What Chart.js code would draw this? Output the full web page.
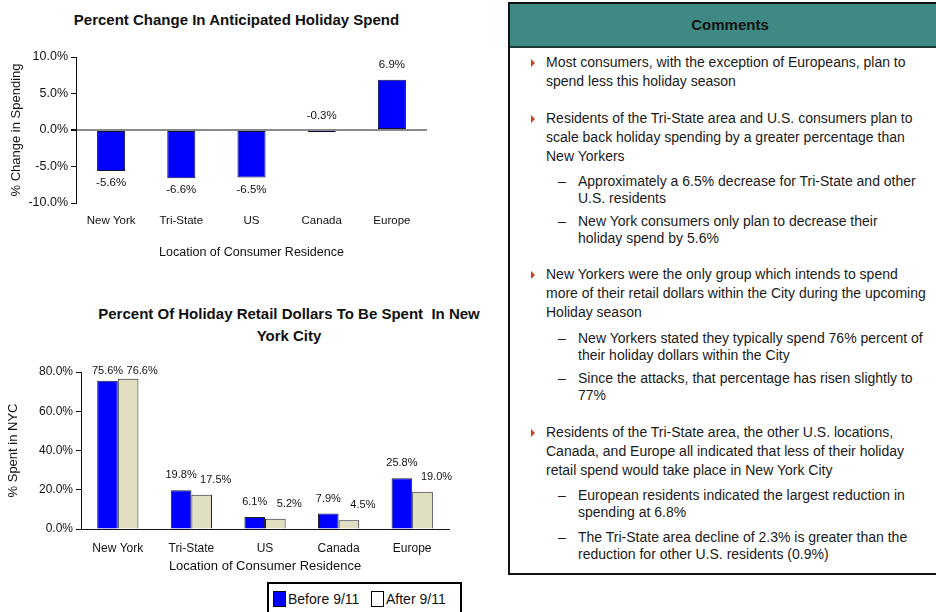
<!DOCTYPE html>
<html>
<head>
<meta charset="utf-8">
<script src="https://cdn.jsdelivr.net/npm/chart.js@4.4.1/dist/chart.umd.min.js"></script>
<style>
    html, body { margin: 0; padding: 0; background: #fff; }
    body { width: 936px; height: 612px; position: relative; overflow: hidden; font-family: "Liberation Sans", Arial, sans-serif; color: #111; }
    .chart-box { position: absolute; }
    .chart-title { position: absolute; font-weight: bold; font-size: 15px; text-align: center; line-height: 22px; white-space: nowrap; }
    .legend { position: absolute; left: 267px; top: 582px; width: 191px; height: 40px; border: 2px solid #000; font-size: 14px; }
    .legend span.item { position: absolute; top: 7px; white-space: nowrap; }
    .legend i { display: inline-block; width: 11px; height: 14px; border: 1px solid #000; vertical-align: -3px; margin-right: 2px; }
    .panel { position: absolute; left: 508px; top: 2px; width: 440px; height: 569px; border: 2px solid #111; }
    .panel .head { height: 42px; background: #3f8985; border-bottom: 2px solid #1d3d3b; font-weight: bold; font-size: 15px; text-align: center; line-height: 42px; color: #111; }
    .note { position: absolute; font-size: 14px; white-space: nowrap; color: #1a1a1a; }
    .note.main { left: 36px; line-height: 19px; }
    .note.sub { left: 68px; line-height: 16.5px; }
    .note.main::before { content: ""; position: absolute; left: -15px; top: 6px; border-left: 4px solid #c8421c; border-top: 4px solid transparent; border-bottom: 4px solid transparent; }
    .note.sub::before { content: "–"; position: absolute; left: -20px; top: 0; }
</style>
</head>
<body>

<div class="chart-title" style="left:70px; top:9px; width:333px;">Percent Change In Anticipated Holiday Spend</div>
<div class="chart-box" style="left:0; top:0; width:440px; height:270px;"><canvas id="changeChart"></canvas></div>

<div class="chart-title" style="left:89px; top:303px; width:400px;">Percent Of Holiday Retail Dollars To Be Spent&nbsp; In New<br>York City</div>
<div class="chart-box" style="left:0; top:290px; width:500px; height:290px;"><canvas id="nycChart"></canvas></div>
<div class="legend" id="nycLegend"></div>

<div class="panel">
    <div class="head">Comments</div>
    <div class="note main" style="top:49px;">Most consumers, with the exception of Europeans, plan to<br>spend less this holiday season</div>
    <div class="note main" style="top:105px;">Residents of the Tri-State area and U.S. consumers plan to<br>scale back holiday spending by a greater percentage than<br>New Yorkers</div>
    <div class="note sub" style="top:169px;">Approximately a 6.5% decrease for Tri-State and other<br>U.S. residents</div>
    <div class="note sub" style="top:209px;">New York consumers only plan to decrease their<br>holiday spend by 5.6%</div>
    <div class="note main" style="top:261px;">New Yorkers were the only group which intends to spend<br>more of their retail dollars within the City during the upcoming<br>Holiday season</div>
    <div class="note sub" style="top:326px;">New Yorkers stated they typically spend 76% percent of<br>their holiday dollars within the City</div>
    <div class="note sub" style="top:366px;">Since the attacks, that percentage has risen slightly to<br>77%</div>
    <div class="note main" style="top:419px;">Residents of the Tri-State area, the other U.S. locations,<br>Canada, and Europe all indicated that less of their holiday<br>retail spend would take place in New York City</div>
    <div class="note sub" style="top:483px;">European residents indicated the largest reduction in<br>spending at 6.8%</div>
    <div class="note sub" style="top:525px;">The Tri-State area decline of 2.3% is greater than the<br>reduction for other U.S. residents (0.9%)</div>
</div>

<script>
// данные графиков
const locations = ['New York', 'Tri-State', 'US', 'Canada', 'Europe'];
const spendChange = [-5.6, -6.6, -6.5, -0.3, 6.9];
const changeTicks = [-10, -5, 0, 5, 10];

const seriesNames = ['Before 9/11', 'After 9/11'];
const nycBefore = [75.6, 19.8, 6.1, 7.9, 25.8];
const nycAfter = [76.6, 17.5, 5.2, 4.5, 19.0];
const nycTicks = [0, 20, 40, 60, 80];

const seriesColors = ['#0000ff', '#e0dfc2'];
const axisTitle = 'Location of Consumer Residence';

Chart.defaults.font.family = '"Liberation Sans", Arial, sans-serif';
Chart.defaults.color = '#111';
Chart.defaults.animation = false;

const pct = v => Number(v).toFixed(1) + '%';

// подписи значений над/под столбцами
const valueLabels = {
    id: 'valueLabels',
    afterDatasetsDraw(chart, args, opts) {
        const ctx = chart.ctx;
        ctx.save();
        ctx.font = `${opts.size || 11}px "Liberation Sans", Arial, sans-serif`;
        ctx.fillStyle = '#111';
        ctx.textAlign = 'center';
        ctx.textBaseline = 'middle';
        chart.data.datasets.forEach((ds, di) => {
            const meta = chart.getDatasetMeta(di);
            const dx = (opts.shift || [])[di] || 0;
            meta.data.forEach((bar, i) => {
                const v = ds.data[i];
                const long = Math.abs(bar.base - bar.y) > 12;
                let y;
                if (v < 0 && long) {
                    y = bar.y + 12;
                } else {
                    y = Math.max(Math.min(bar.y, bar.base) - 15, chart.chartArea.top - 1);
                }
                ctx.fillText(pct(v), bar.x + dx, y);
            });
        });
        ctx.restore();
    },
};

new Chart(document.getElementById('changeChart'), {
    type: 'bar',
    data: {
        labels: locations,
        datasets: [{
            data: spendChange,
            backgroundColor: seriesColors[0],
            borderColor: '#101040',
            borderWidth: 1,
            borderSkipped: false,
            categoryPercentage: 1,
            barPercentage: 0.4,
        }],
    },
    options: {
        responsive: true,
        maintainAspectRatio: false,
        layout: { padding: { top: 57, right: 13, left: 0, bottom: 0 } },
        plugins: {
            legend: { display: false },
            tooltip: { enabled: false },
            valueLabels: { size: 11.5 },
        },
        scales: {
            x: {
                grid: { display: false, drawTicks: false },
                border: { display: false },
                ticks: { padding: 11, font: { size: 11.5 } },
                title: { display: true, text: axisTitle, font: { size: 12.5 }, padding: { top: 0, bottom: 10 } },
                afterFit: scale => { scale.height = 67; },
            },
            y: {
                min: -10,
                max: 10,
                afterBuildTicks: scale => { scale.ticks = changeTicks.map(v => ({ value: v })); },
                grid: {
                    color: c => (c.tick && c.tick.value === 0 ? '#8a8a8a' : 'rgba(0,0,0,0)'),
                    lineWidth: c => (c.tick && c.tick.value === 0 ? 2 : 1),
                    tickColor: '#111',
                    tickLength: 5,
                },
                border: { color: '#111', width: 1 },
                ticks: { padding: 3, font: { size: 12.5 }, callback: pct },
                title: { display: true, text: '% Change in Spending', font: { size: 13 }, padding: { top: 9, bottom: 0 } },
                afterFit: scale => { scale.width = 76; },
            },
        },
    },
    plugins: [valueLabels],
});

new Chart(document.getElementById('nycChart'), {
    type: 'bar',
    data: {
        labels: locations,
        datasets: [nycBefore, nycAfter].map((vals, i) => ({
            label: seriesNames[i],
            data: vals,
            backgroundColor: seriesColors[i],
            borderColor: '#202030',
            borderWidth: 1,
            borderSkipped: 'bottom',
            categoryPercentage: 0.56,
            barPercentage: 1,
        })),
    },
    options: {
        responsive: true,
        maintainAspectRatio: false,
        layout: { padding: { top: 82, right: 51, left: 0, bottom: 0 } },
        plugins: {
            legend: { display: false },
            tooltip: { enabled: false },
            valueLabels: { size: 11, shift: [0, 14] },
        },
        scales: {
            x: {
                grid: { display: false, drawTicks: false },
                border: { color: '#111', width: 1 },
                ticks: { padding: 12, font: { size: 12 } },
                title: { display: true, text: axisTitle, font: { size: 13 }, padding: { top: 0, bottom: 6 } },
                afterFit: scale => { scale.height = 51; },
            },
            y: {
                min: 0,
                max: 80,
                afterBuildTicks: scale => { scale.ticks = nycTicks.map(v => ({ value: v })); },
                grid: { drawOnChartArea: false, tickColor: '#111', tickLength: 5 },
                border: { color: '#111', width: 1 },
                ticks: { padding: 3, font: { size: 12 }, callback: pct },
                title: { display: true, text: '% Spent in NYC', font: { size: 13 }, padding: { top: 6, bottom: 0 } },
                afterFit: scale => { scale.width = 81; },
            },
        },
    },
    plugins: [valueLabels],
});

// легенда второго графика
const legendEl = document.getElementById('nycLegend');
const legendLeft = [4, 102];
seriesNames.forEach((name, i) => {
    const item = document.createElement('span');
    item.className = 'item';
    item.style.left = legendLeft[i] + 'px';
    const sw = document.createElement('i');
    sw.style.background = i === 0 ? seriesColors[0] : '#fff';
    item.appendChild(sw);
    item.appendChild(document.createTextNode(name));
    legendEl.appendChild(item);
});
</script>
</body>
</html>
